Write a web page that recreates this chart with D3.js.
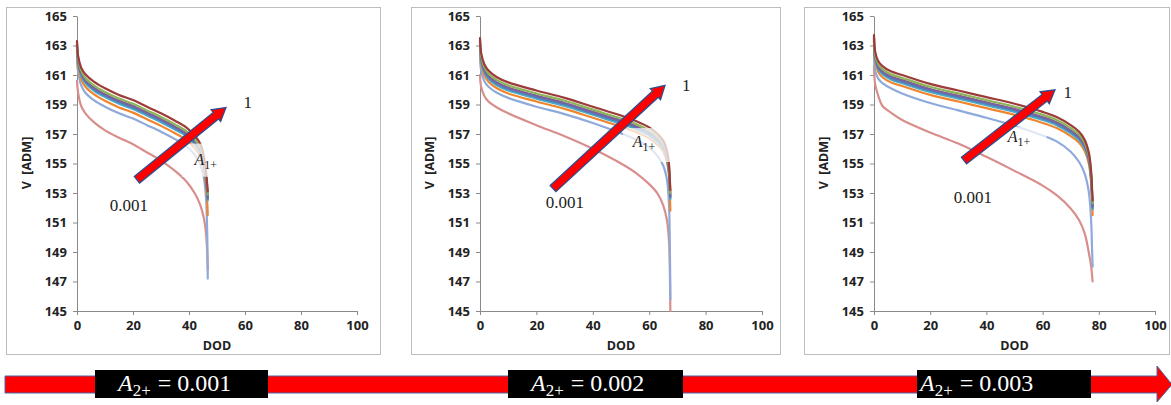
<!DOCTYPE html>
<html><head><meta charset="utf-8">
<script src="https://cdn.jsdelivr.net/npm/d3@7"></script>
<style>body{margin:0;background:#fff}svg{display:block}</style>
</head><body><svg id="c" width="1171" height="405"></svg>
<script>
// ---------- data ----------
const seriesNames = ["A1+=0.001","s2","s3","s4","s5","s6","s7","A1+=1"];
const seriesColors = ["#d88f8c","#8eaadc","#f0852d","#4bacc6","#4f81bd","#7d60a0","#8fb458","#9c3b39"];
const yTicks = [145,147,149,151,153,155,157,159,161,163,165];
const xTicks = [0,20,40,60,80,100];
const a2Labels = ["0.001","0.002","0.003"];

// panel 1 (A2+ = 0.001)
const dod1 = [0,0.4,1.5,3,6,10,15,20,25,30,35,39,42,44,45.3,46.1,46.5,46.7];
const p1_s1 = [160.6,159.8,158.9,158.4,157.8,157.25,156.75,156.3,155.75,155.2,154.5,153.8,153.0,152.2,151.3,150.2,149.0,147.8];
const p1_s2 = [162.0,161.2,160.3,159.8,159.3,158.85,158.4,158.05,157.6,157.15,156.65,156.2,155.6,154.95,154.05,152.6,150.3,147.2];
const p1_s3 = [162.7,161.6,160.7,160.2,159.7,159.25,158.8,158.45,158.0,157.55,157.05,156.6,156.05,155.5,154.65,153.5,152.4,151.5];
const p1_s4 = [162.9,161.8,160.95,160.45,159.95,159.5,159.05,158.7,158.25,157.8,157.3,156.85,156.3,155.75,154.9,153.8,153.0,152.5];
const p1_s5 = [163.0,161.9,161.05,160.55,160.05,159.6,159.15,158.8,158.35,157.9,157.4,156.95,156.4,155.85,155.0,153.9,153.1,152.6];
const p1_s6 = [163.1,162.0,161.15,160.65,160.15,159.7,159.25,158.9,158.45,158.0,157.5,157.05,156.5,155.95,155.1,154.0,153.2,152.7];
const p1_s7 = [163.2,162.1,161.3,160.8,160.3,159.85,159.4,159.05,158.6,158.15,157.65,157.2,156.65,156.1,155.25,154.2,153.4,152.9];
const p1_s8 = [163.3,162.3,161.5,161.05,160.55,160.1,159.65,159.3,158.85,158.4,157.9,157.45,156.9,156.35,155.5,154.4,153.6,153.1];

// panel 2 (A2+ = 0.002)
const dod2 = [0,0.4,1.5,3,6,10,20,30,40,50,55,60,63,65,66.3,67,67.3,67.5];
const p2_s1 = [161.0,160.2,159.6,159.2,158.8,158.4,157.6,156.85,156.0,155.0,154.4,153.6,152.95,152.15,151.15,149.8,148.0,145.0];
const p2_s2 = [162.2,161.3,160.6,160.2,159.8,159.45,158.85,158.35,157.75,157.05,156.65,156.1,155.5,154.85,153.9,152.3,149.8,145.8];
const p2_s3 = [162.9,161.8,161.0,160.55,160.1,159.75,159.2,158.7,158.1,157.5,157.15,156.7,156.25,155.8,155.1,154.2,153.0,151.8];
const p2_s4 = [163.1,162.0,161.2,160.75,160.3,159.95,159.4,158.9,158.3,157.7,157.35,156.9,156.45,156.0,155.3,154.4,153.4,152.6];
const p2_s5 = [163.2,162.1,161.3,160.85,160.4,160.05,159.5,159.0,158.4,157.8,157.45,157.0,156.55,156.1,155.4,154.5,153.5,152.7];
const p2_s6 = [163.3,162.2,161.4,160.95,160.5,160.15,159.6,159.1,158.5,157.9,157.55,157.1,156.65,156.2,155.5,154.6,153.6,152.8];
const p2_s7 = [163.4,162.3,161.55,161.1,160.65,160.3,159.75,159.25,158.65,158.05,157.7,157.25,156.8,156.35,155.65,154.8,153.8,153.0];
const p2_s8 = [163.5,162.5,161.75,161.3,160.85,160.5,159.95,159.45,158.85,158.25,157.9,157.45,157.0,156.55,155.85,155.0,154.0,153.2];

// panel 3 (A2+ = 0.003)
const dod3 = [0,0.4,1.5,3,6,10,20,30,40,50,60,65,70,73,75,76.5,77.3,77.6,77.8];
const p3_s1 = [161.6,160.4,159.6,158.9,158.45,157.95,157.1,156.35,155.45,154.5,153.5,152.85,151.95,151.15,150.25,148.9,148.0,147.4,147.0];
const p3_s2 = [162.4,161.3,160.75,160.45,160.1,159.75,159.1,158.6,158.1,157.55,156.9,156.5,155.8,155.1,154.3,153.0,151.0,149.2,148.0];
const p3_s3 = [163.1,161.9,161.2,160.85,160.5,160.25,159.65,159.2,158.75,158.3,157.75,157.4,156.85,156.4,155.85,154.95,153.6,152.4,151.5];
const p3_s4 = [163.3,162.1,161.4,161.05,160.7,160.45,159.85,159.4,158.95,158.5,157.95,157.6,157.05,156.6,156.05,155.15,153.8,152.7,151.9];
const p3_s5 = [163.4,162.2,161.5,161.15,160.8,160.55,159.95,159.5,159.05,158.6,158.05,157.7,157.15,156.7,156.15,155.25,153.9,152.8,152.0];
const p3_s6 = [163.5,162.3,161.6,161.25,160.9,160.65,160.05,159.6,159.15,158.7,158.15,157.8,157.25,156.8,156.25,155.35,154.0,152.9,152.1];
const p3_s7 = [163.6,162.4,161.75,161.4,161.05,160.8,160.2,159.75,159.3,158.85,158.3,157.95,157.4,156.95,156.4,155.5,154.2,153.1,152.3];
const p3_s8 = [163.7,162.6,161.95,161.6,161.25,161.0,160.4,159.95,159.5,159.05,158.5,158.15,157.6,157.15,156.6,155.7,154.4,153.3,152.5];

// annotation anchors in data units [DOD, V]
const arrowTail = [[21.4,153.9],[25.9,153.3],[32.0,155.2]];
const arrowTip  = [[53.2,158.8],[65.6,160.3],[64.4,160.0]];
const labelHigh = [[59.5,159.2],[71.6,160.3],[67.4,159.85]];
const labelLow  = [[18.5,152.2],[30.1,152.4],[35.2,152.7]];
const labelA1   = [[46.0,155.2],[58.2,156.4],[51.6,156.7]];
const fadeBox   = [[37.5,156.35,47.5,154.1],[50.7,157.4,67.4,155.1],[43.6,157.5,61.4,156.0]];

// ---------- layout ----------
const panels = [
  {frame:[6,7,380,354], x0:77, x1:357, dod:dod1, vals:[p1_s1,p1_s2,p1_s3,p1_s4,p1_s5,p1_s6,p1_s7,p1_s8]},
  {frame:[411,7,780,354], x0:480, x1:762, dod:dod2, vals:[p2_s1,p2_s2,p2_s3,p2_s4,p2_s5,p2_s6,p2_s7,p2_s8]},
  {frame:[804,7,1169,354], x0:874, x1:1155, dod:dod3, vals:[p3_s1,p3_s2,p3_s3,p3_s4,p3_s5,p3_s6,p3_s7,p3_s8]}
];
const svg = d3.select("#c");
const axisFont = "'Open Sans', Lato, sans-serif";
const serif = "'Liberation Serif', 'DejaVu Serif', serif";

panels.forEach((p,pi)=>{
  const [fx0,fy0,fx1,fy1] = p.frame;
  svg.append("rect").attr("x",fx0+0.5).attr("y",fy0+0.5).attr("width",fx1-fx0).attr("height",fy1-fy0)
     .attr("fill","#fff").attr("stroke","#bdbdbd").attr("stroke-width",1);
  const x = d3.scaleLinear().domain([0,100]).range([p.x0,p.x1]);
  const y = d3.scaleLinear().domain([145,165]).range([311,16]);
  const g = svg.append("g");

  const ya = g.append("g").attr("transform",`translate(${p.x0},0)`)
    .call(d3.axisLeft(y).tickValues(yTicks).tickSize(4).tickSizeOuter(0).tickPadding(6));
  const xa = g.append("g").attr("transform",`translate(0,311)`)
    .call(d3.axisBottom(x).tickValues(xTicks).tickSize(4).tickSizeOuter(0).tickPadding(6));
  [ya,xa].forEach(a=>{
    a.select(".domain").attr("stroke","#8a8a8a");
    a.selectAll(".tick line").attr("stroke","#8a8a8a");
    a.selectAll("text").attr("font-family",axisFont).attr("font-weight","bold")
      .attr("font-size",13).attr("fill","#222");
  });
  g.append("text").attr("x",(p.x0+p.x1)/2).attr("y",350).attr("text-anchor","middle")
    .attr("font-family",axisFont).attr("font-weight","bold").attr("font-size",12.5).attr("fill","#222").text("DOD");
  g.append("text").attr("transform",`translate(${p.x0-46},163) rotate(-90)`).attr("text-anchor","middle")
    .attr("font-family",axisFont).attr("font-weight","bold").attr("font-size",12.5).attr("fill","#222")
    .attr("xml:space","preserve").style("white-space","pre").text("V  [ADM]");

  const line = d3.line().x((d,i)=>x(p.dod[i])).y(d=>y(d)).curve(d3.curveCatmullRom.alpha(0.5));
  p.vals.forEach((vs,si)=>{
    g.append("path").attr("d",line(vs)).attr("fill","none")
      .attr("stroke",seriesColors[si]).attr("stroke-width",2.2).attr("stroke-linecap","round");
  });

  // faded highlight box behind A1+ label
  const fb = fadeBox[pi];
  g.append("rect").attr("x",x(fb[0])).attr("y",y(fb[1])).attr("width",x(fb[2])-x(fb[0])).attr("height",y(fb[3])-y(fb[1]))
    .attr("fill","#fff").attr("opacity",0.72);

  // A1+ label
  const la = labelA1[pi];
  const t = g.append("text").attr("x",x(la[0])).attr("y",y(la[1])+4).attr("text-anchor","middle")
    .attr("font-family",serif).attr("font-size",16).attr("fill","#222");
  t.append("tspan").attr("font-style","italic").text("A");
  t.append("tspan").attr("dy",4).attr("font-size",12).text("1+");

  // red diagonal arrow
  const [tx,ty] = [x(arrowTail[pi][0]),y(arrowTail[pi][1])];
  const [hx,hy] = [x(arrowTip[pi][0]),y(arrowTip[pi][1])];
  const ang = Math.atan2(hy-ty,hx-tx), len = Math.hypot(hx-tx,hy-ty);
  const sw=4.2, hw=7.5, hl=13;
  const pts = [[0,-sw],[len-hl,-sw],[len-hl,-hw],[len,0],[len-hl,hw],[len-hl,sw],[0,sw]];
  g.append("polygon").attr("points",pts.map(q=>q.join(",")).join(" "))
    .attr("transform",`translate(${tx},${ty}) rotate(${ang*180/Math.PI})`)
    .attr("fill","#ff0000").attr("stroke","#2f4d8f").attr("stroke-width",1.3).attr("stroke-linejoin","miter");

  g.append("text").attr("x",x(labelHigh[pi][0])).attr("y",y(labelHigh[pi][1])+6)
    .attr("font-family",serif).attr("font-size",17).attr("fill","#222").text("1");
  g.append("text").attr("x",x(labelLow[pi][0])).attr("y",y(labelLow[pi][1])+6).attr("text-anchor","middle")
    .attr("font-family",serif).attr("font-size",17).attr("fill","#222").text("0.001");
});

// bottom big arrow
const barTop=376, barBot=393, headTop=366, headBot=402, headX=1157, tipX=1172;
const bigPts=[[5,barTop],[headX,barTop],[headX,headTop],[tipX,(barTop+barBot)/2],[headX,headBot],[headX,barBot],[5,barBot]];
svg.append("polygon").attr("points",bigPts.map(q=>q.join(",")).join(" "))
  .attr("fill","#ff0000").attr("stroke","#4a67a6").attr("stroke-width",1);

const boxes = [[95,268,118],[508,683,531],[917,1091,920]];
boxes.forEach((b,i)=>{
  svg.append("rect").attr("x",b[0]).attr("y",370).attr("width",b[1]-b[0]).attr("height",28).attr("fill","#000");
  const t = svg.append("text").attr("x",b[2]).attr("y",391)
    .attr("font-family",serif).attr("font-size",24).attr("fill","#fff");
  t.append("tspan").attr("font-style","italic").text("A");
  t.append("tspan").attr("dy",5).attr("font-size",17).text("2+");
  t.append("tspan").attr("dy",-5).attr("dx",7).text("= " + a2Labels[i]);
});
</script></body></html>
